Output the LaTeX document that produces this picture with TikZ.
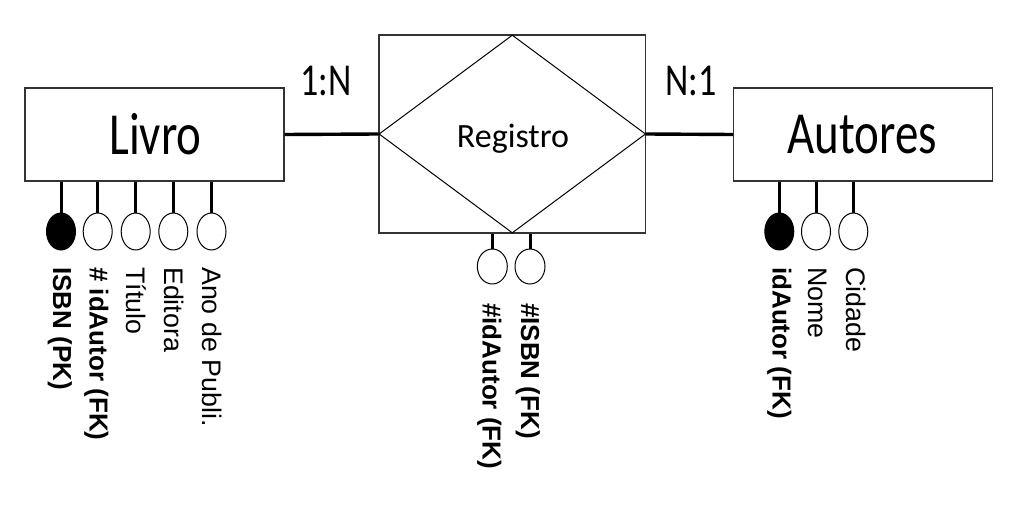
\documentclass[tikz,border=0pt]{standalone}
\usepackage{fontspec}
\setmainfont{Carlito}
\newfontfamily\labfont{Liberation Sans}
\usetikzlibrary{shapes.geometric}
\tikzset{
  entity/.style={draw=black!80, line width=1.3pt, fill=white, inner sep=0pt, minimum width=259pt, minimum height=93pt},
  relbox/.style={draw=black!80, line width=1.3pt, inner sep=0pt, minimum width=266.7pt, minimum height=198pt},
  reldiam/.style={diamond, draw=black, line width=1pt, inner sep=0pt, minimum width=266.7pt, minimum height=198pt},
  attr/.style={ellipse, draw=black, line width=1pt, fill=white, inner sep=0pt, minimum width=29pt, minimum height=37pt},
  keyattr/.style={attr, fill=black},
  conn/.style={line width=3.4pt},
  stem/.style={line width=3pt},
  big/.style={font=\fontsize{47}{47}\selectfont, inner sep=0pt, anchor=base},
  card/.style={font=\fontsize{36}{36}\selectfont, inner sep=0pt, anchor=base},
  lab/.style={font=\labfont\fontsize{26.8}{26.8}\selectfont, inner sep=0pt, anchor=base west, rotate=-90},
  klab/.style={lab, font=\labfont\fontsize{26}{26}\selectfont\bfseries},
}
\begin{document}
\begin{tikzpicture}[x=1pt,y=-1pt]
\useasboundingbox (0,0) rectangle (1021,511);
% entities
\node[entity] (livro) at (154.5,134.5) {};
\node[big] (livrot) at (155.5,154.3) {\scalebox{1}[1.27]{Livro}};
\node[entity] (autores) at (863.3,134.5) {};
\node[big] (autorest) at (862.5,153.3) {\scalebox{1}[1.27]{Autores}};
% relationship
\node[relbox] (regbox) at (512.3,134) {};
\node[reldiam] (reg) at (512.3,134) {};
\node[font=\fontsize{34}{34}\selectfont, inner sep=0pt, anchor=base] (regt) at (513,147.3) {Registro};
% connectors
\draw[conn] (livro.east) -- (reg.west);
\draw[conn] (reg.east) -- (autores.west);
\node[card] (c1) at (326.3,95.7) {\scalebox{1}[1.27]{1:N}};
\node[card] (c2) at (691,95.7) {\scalebox{1}[1.27]{N:1}};
% Livro attributes
\node[keyattr] (l1) at (61,231.5) {};
\node[attr] (l2) at (97.7,231.5) {};
\node[attr] (l3) at (135.7,231.5) {};
\node[attr] (l4) at (173.3,231.5) {};
\node[attr] (l5) at (211.5,231.5) {};
\foreach \n in {l1,l2,l3,l4,l5} \draw[stem] (\n.north) -- (\n.north |- livro.south);
\node[klab] (t1) at (53,267) {ISBN (PK)};
\node[klab] (t2) at (89.5,267) {\# idAutor (FK)};
\node[lab] (t3) at (126,267) {Título};
\node[lab] (t4) at (164,267) {Editora};
\node[lab] (t5) at (202.5,267) {Ano de Publi.};
% Registro attributes
\node[attr, minimum width=30pt, minimum height=35pt] (r1) at (492.3,266.5) {};
\node[attr, minimum width=30pt, minimum height=35pt] (r2) at (530,266.5) {};
\foreach \n in {r1,r2} \draw[stem] (\n.north) -- (\n.north |- regbox.south);
\node[klab] (rt1) at (482.5,303) {\#idAutor (FK)};
\node[klab] (rt2) at (521,303) {\#ISBN (FK)};
% Autores attributes
\node[keyattr] (a1) at (779.3,231.5) {};
\node[attr] (a2) at (816,231.5) {};
\node[attr] (a3) at (853.3,231.5) {};
\foreach \n in {a1,a2,a3} \draw[stem] (\n.north) -- (\n.north |- autores.south);
\node[klab] (at1) at (772.5,267) {idAutor (FK)};
\node[lab] (at2) at (808,267) {Nome};
\node[lab] (at3) at (846,267) {Cidade};
\end{tikzpicture}
\end{document}
